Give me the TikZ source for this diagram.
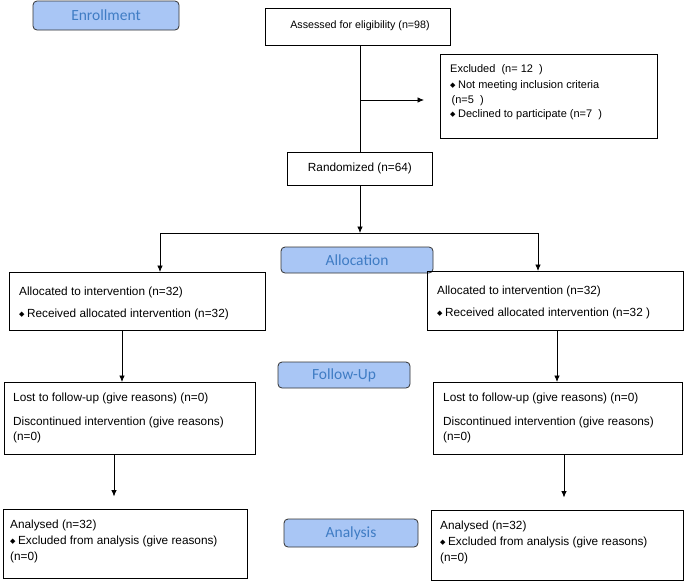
\documentclass[tikz,border=0pt]{standalone}
\usepackage{fontspec}
\setmainfont{Liberation Sans}
\newfontfamily\labfont{Carlito}
\newfontfamily\dvfont{DejaVu Sans}
\usetikzlibrary{arrows.meta}
\definecolor{labfill}{HTML}{A9C6F5}
\definecolor{labtext}{HTML}{3F7CC4}
\newcommand{\bul}{\raisebox{1.2pt}{\dvfont\fontsize{7}{7}\selectfont ◆}\hspace{2.5pt}}
\begin{document}
\begin{tikzpicture}[x=1pt,y=-1pt,
  box/.style={draw, line width=0.8pt, anchor=north west, inner sep=0},
  lab/.style={draw=black!80, fill=labfill, rounded corners=4pt, text=labtext,
    font=\labfont\fontsize{15.5}{17}\selectfont, line width=0.8pt, inner sep=0},
  txt/.style={anchor=north west, inner sep=0, align=left, font=\fontsize{11.8}{14}\selectfont},
  arr/.style={-{Latex[length=6.5pt,width=5.5pt]}, line width=0.8pt},
  ln/.style={line width=0.8pt}]
\fill[white] (0,0) rectangle (685,582);
\useasboundingbox (0,0) rectangle (685,582);

% phase labels
\node[lab, minimum width=146pt, minimum height=29pt] (enr) at (106,15.5) {Enrollment};
\node[lab, minimum width=152pt, minimum height=26pt] (alc) at (357,260) {Allocation};
\node[lab, minimum width=132pt, minimum height=26pt] (fup) at (344,375) {Follow-Up};
\node[lab, minimum width=134pt, minimum height=28pt] (ana) at (351,533) {Analysis};

% boxes
\node[box, minimum width=185pt, minimum height=37pt] (assess) at (265,8) {};
\node[anchor=center, inner sep=0, font=\fontsize{10.7}{13}\selectfont] (assesstxt) at (360,26) {Assessed for eligibility (n=98)};

\node[box, minimum width=217pt, minimum height=84pt] (excl) at (440,54) {};
\node[txt, font=\fontsize{11}{12.5}\selectfont] (excltxt) at (450,64.5)
  {Excluded\ \ (n= 12\ \ )\\[3.5pt]
   \bul Not meeting inclusion criteria\\[2pt]
   \hspace{1.5pt}(n=5\ \ )\\[2pt]
   \bul Declined to participate (n=7\ \ )};

\node[box, minimum width=145pt, minimum height=33pt] (rand) at (287,152) {};
\node[anchor=center, inner sep=0, font=\fontsize{11.8}{14}\selectfont] (randtxt) at (rand.center) {Randomized (n=64)};

\node[box, minimum width=256pt, minimum height=58pt] (la) at (9,272) {};
\node[txt] (latxt) at (19,286.5)
  {Allocated to intervention (n=32)\\[8pt]
   \bul Received allocated intervention (n=32)};

\node[box, minimum width=256pt, minimum height=59pt] (ra) at (427,271) {};
\node[txt] (ratxt) at (437,285.5)
  {Allocated to intervention (n=32)\\[8pt]
   \bul Received allocated intervention (n=32 )};

\node[box, minimum width=251pt, minimum height=72pt] (lf) at (4,382) {};
\node[txt] (lftxt) at (13,393)
  {Lost to follow-up (give reasons) (n=0)\\[10pt]
   Discontinued intervention (give reasons)\\[1pt]
   (n=0)};

\node[box, minimum width=249pt, minimum height=72pt] (rf) at (433,382) {};
\node[txt] (rftxt) at (443,393)
  {Lost to follow-up (give reasons) (n=0)\\[10pt]
   Discontinued intervention (give reasons)\\[1pt]
   (n=0)};

\node[box, minimum width=244pt, minimum height=69pt] (lan) at (3,509) {};
\node[txt] (lantxt) at (10,519.5)
  {Analysed (n=32)\\[2.5pt]
   \bul Excluded from analysis (give reasons)\\[2pt]
   (n=0)};

\node[box, minimum width=252pt, minimum height=70pt] (ran) at (431,510) {};
\node[txt] (rantxt) at (440,520.5)
  {Analysed (n=32)\\[2.5pt]
   \bul Excluded from analysis (give reasons)\\[2pt]
   (n=0)};

% connectors
\draw[ln] (assess.south -| rand.north) -- (rand.north);
\coordinate (exsplit) at (360.5,100);
\draw[arr, shorten >=16pt] (exsplit) -- (exsplit -| excl.west);
\coordinate (split) at (360,233);
\draw[arr] (rand.south -| split) -- (split);
\coordinate (sl) at (160,233);
\coordinate (sr) at (538,233);
\draw[ln] (sl) -- (sr);
\draw[arr] (sl) -- (sl |- la.north);
\draw[arr] (sr) -- (sr |- ra.north);
\coordinate (l1) at (122,0);
\coordinate (r1) at (557,0);
\draw[arr] (la.south -| l1) -- (lf.north -| l1);
\draw[arr] (ra.south -| r1) -- (rf.north -| r1);
\coordinate (l2) at (114,0);
\coordinate (r2) at (564,0);
\draw[arr, shorten >=12.5pt] (lf.south -| l2) -- (lan.north -| l2);
\draw[arr, shorten >=12.5pt] (rf.south -| r2) -- (ran.north -| r2);
\end{tikzpicture}
\end{document}
